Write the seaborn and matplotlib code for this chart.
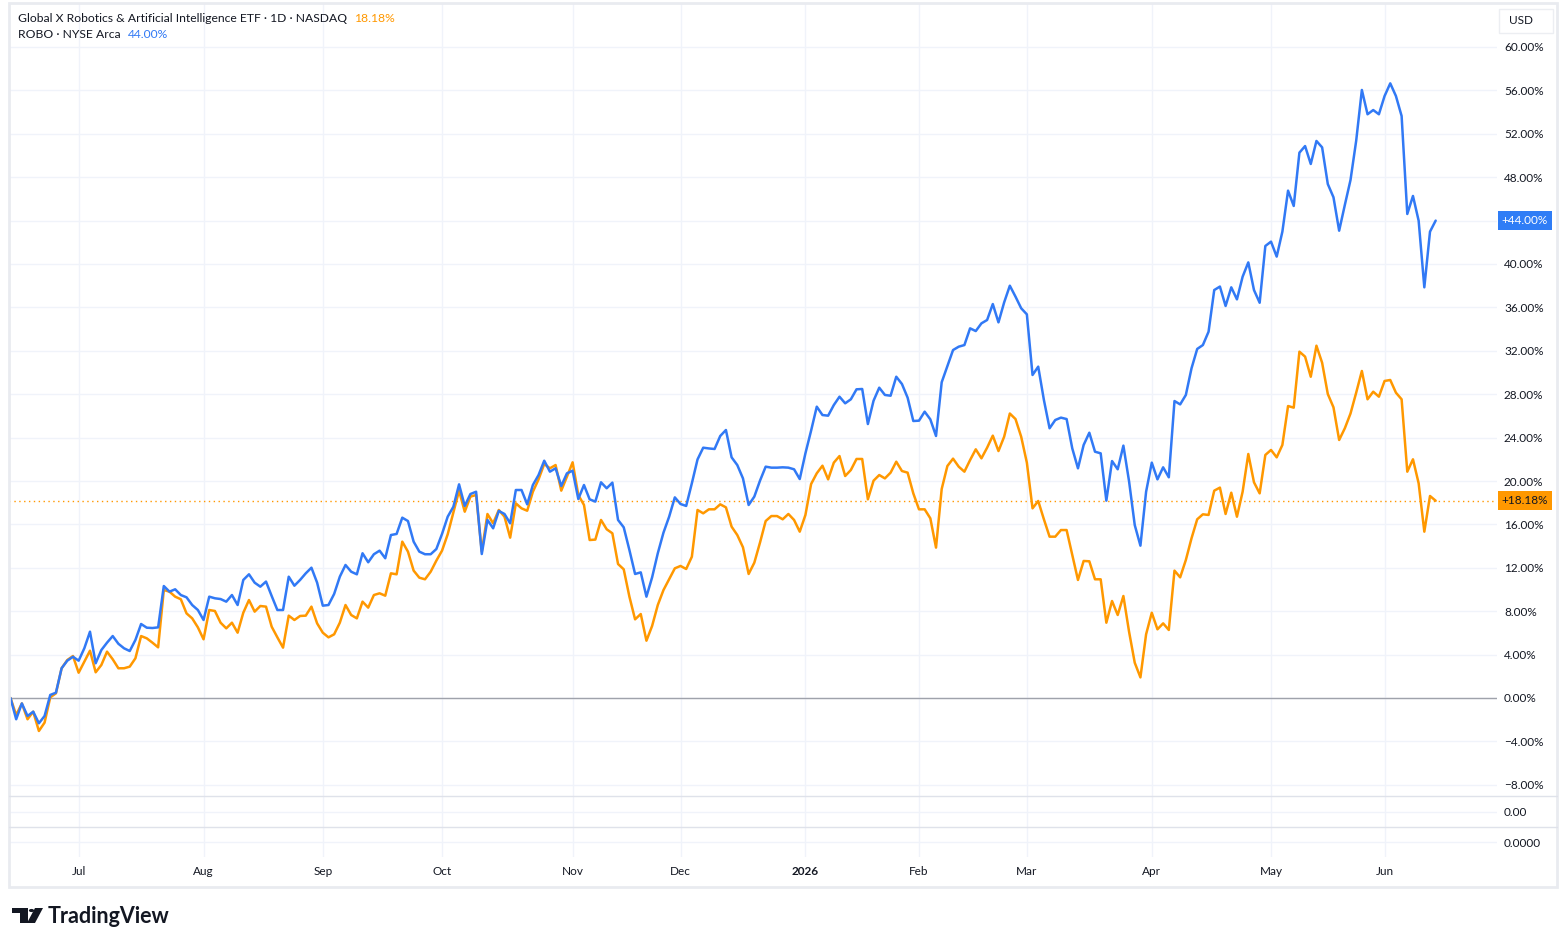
import pandas as pd
import numpy as np
import matplotlib
matplotlib.use("Agg")
import matplotlib.pyplot as plt
import matplotlib.transforms as mtransforms
from matplotlib.patches import Rectangle, Polygon, Circle
import seaborn as sns

# percent change since start (one value per trading day)
robo_pct = [
    0.0, -1.96, -0.5, -1.66, -1.26, -2.33, -1.66, 0.28, 0.49, 2.74,
    3.44, 3.8, 3.44, 4.58, 6.11, 3.2, 4.42, 5.1, 5.71, 5.0,
    4.58, 4.33, 5.35, 6.82, 6.48, 6.45, 6.51, 10.32, 9.8, 10.02,
    9.49, 9.28, 8.57, 8.11, 7.19, 9.34, 9.19, 9.12, 8.88, 9.49,
    8.57, 10.88, 11.4, 10.63, 10.26, 10.73, 9.4, 8.11, 8.11, 11.18,
    10.35, 10.88, 11.49, 12.01, 10.63, 8.51, 8.57, 9.59, 11.18, 12.26,
    11.64, 11.4, 13.34, 12.51, 13.25, 13.58, 12.88, 15.02, 15.12, 16.62,
    16.31, 14.41, 13.49, 13.25, 13.25, 13.73, 15.12, 16.71, 17.63, 19.69,
    17.7, 18.8, 19.01, 13.27, 16.41, 15.64, 17.24, 16.96, 16.1, 19.17,
    19.17, 17.85, 19.63, 20.55, 21.87, 20.86, 21.17, 19.54, 20.71, 20.95,
    18.34, 19.63, 18.31, 18.1, 19.88, 19.33, 19.85, 16.41, 15.73, 13.64,
    11.43, 11.58, 9.34, 11.12, 13.34, 15.24, 16.71, 18.49, 17.88, 17.7,
    19.79, 21.99, 23.07, 23.0, 22.95, 24.15, 24.7, 22.18, 21.47, 20.24,
    17.79, 18.56, 20.03, 21.32, 21.23, 21.23, 21.26, 21.23, 21.08, 20.18,
    22.55, 24.64, 26.85, 26.08, 26.02, 27.0, 27.77, 27.16, 27.53, 28.45,
    28.48, 25.25, 27.4, 28.6, 27.93, 27.86, 29.61, 28.94, 27.68, 25.53,
    25.56, 26.39, 25.68, 24.15, 29.1, 30.6, 32.07, 32.38, 32.53, 34.07,
    33.82, 34.53, 34.84, 36.31, 34.62, 36.46, 38.0, 36.99, 35.92, 35.36,
    29.77, 30.54, 27.47, 24.86, 25.62, 25.84, 25.71, 23.0, 21.17, 23.32,
    24.45, 22.7, 22.55, 18.19, 21.84, 21.08, 23.26, 19.97, 15.94, 14.04,
    19.01, 21.69, 20.15, 21.26, 20.34, 27.37, 27.06, 27.93, 30.39, 32.17,
    32.53, 33.76, 37.6, 37.92, 36.13, 37.85, 36.74, 38.83, 40.15, 37.6,
    36.43, 41.66, 42.06, 40.68, 42.98, 46.76, 45.35, 50.26, 50.87, 49.22,
    51.34, 50.75, 47.37, 46.15, 43.07, 45.44, 47.74, 51.36, 56.04, 53.8,
    54.19, 53.8, 55.48, 56.65, 55.48, 53.64, 44.61, 46.27, 43.99, 37.85,
    42.98, 44.0,
]
etf_pct = [
    0.0, -1.57, -0.5, -1.96, -1.26, -3.04, -2.27, 0.06, 0.43, 2.74,
    3.5, 3.87, 2.33, 3.35, 4.36, 2.37, 3.04, 4.27, 3.57, 2.74,
    2.74, 2.89, 3.66, 5.71, 5.5, 5.1, 4.67, 9.95, 9.8, 9.34,
    9.1, 7.8, 7.34, 6.51, 5.41, 8.11, 8.02, 6.94, 6.42, 6.94,
    6.02, 7.86, 9.03, 7.96, 8.48, 8.42, 6.57, 5.59, 4.64, 7.59,
    7.19, 7.56, 7.59, 8.42, 6.88, 6.02, 5.59, 5.87, 6.94, 8.57,
    7.65, 7.34, 8.88, 8.33, 9.49, 9.65, 9.43, 11.49, 11.4, 14.41,
    13.49, 11.74, 11.09, 10.94, 11.64, 12.66, 13.58, 15.09, 17.08, 19.11,
    17.17, 18.56, 18.71, 13.49, 16.96, 16.1, 17.33, 16.71, 14.78, 17.94,
    17.48, 17.26, 19.01, 20.15, 21.57, 21.17, 21.47, 19.11, 20.4, 21.72,
    18.71, 17.79, 14.56, 14.6, 16.41, 15.55, 15.18, 12.35, 11.86, 9.34,
    7.25, 7.74, 5.28, 6.64, 8.57, 9.95, 10.94, 11.95, 12.17, 11.89,
    13.02, 17.33, 17.02, 17.39, 17.39, 17.85, 17.57, 15.79, 15.02, 13.89,
    11.43, 12.47, 14.32, 16.31, 16.77, 16.77, 16.47, 16.96, 16.41, 15.33,
    16.87, 19.72, 20.71, 21.41, 20.15, 21.69, 22.3, 20.46, 21.01, 22.03,
    22.03, 18.31, 20.03, 20.55, 20.24, 20.77, 21.78, 20.92, 20.77, 18.86,
    17.39, 17.39, 16.56, 13.86, 19.26, 21.38, 22.06, 21.32, 20.86, 21.93,
    22.92, 22.09, 23.07, 24.18, 22.76, 24.08, 26.22, 25.71, 24.08, 21.69,
    17.48, 18.16, 16.47, 14.87, 14.87, 15.48, 15.48, 13.18, 10.88, 12.63,
    12.6, 10.94, 10.94, 6.94, 8.94, 7.65, 9.4, 6.11, 3.25, 1.9,
    5.87, 7.86, 6.33, 6.88, 6.27, 11.74, 11.12, 12.72, 14.72, 16.47,
    16.93, 16.87, 19.11, 19.39, 16.96, 18.92, 16.71, 19.01, 22.49, 19.88,
    18.86, 22.4, 22.86, 22.18, 23.32, 26.91, 26.76, 31.92, 31.46, 29.61,
    32.47, 30.9, 28.02, 26.79, 23.78, 24.86, 26.22, 28.14, 30.14, 27.53,
    28.23, 27.77, 29.22, 29.31, 28.14, 27.53, 20.86, 22.0, 19.79, 15.33,
    18.62, 18.18,
]
price_ticks = [-8, -4, 0, 4, 8, 12, 16, 20, 24, 28, 32, 36, 40, 44, 48, 52, 56, 60]
holidays = ['2025-06-19', '2025-07-04', '2025-09-01', '2025-11-27', '2025-12-25',
            '2026-01-01', '2026-01-19', '2026-02-16', '2026-04-03', '2026-05-25']
etf_name = "Global X Robotics & Artificial Intelligence ETF \u00b7 1D \u00b7 NASDAQ"
robo_name = "ROBO \u00b7 NYSE Arca"

ORANGE = '#ff9800'
BLUE = '#3179f5'
GRID = '#f0f3fa'
TXT = '#131722'

dates = pd.bdate_range('2025-06-12', periods=len(robo_pct), freq='C', holidays=holidays)
df = pd.DataFrame({
    'i': list(range(len(etf_pct))) * 2,
    'pct': etf_pct + robo_pct,
    'series': ['etf'] * len(etf_pct) + ['robo'] * len(robo_pct),
})

sns.set_style("white")
plt.rcParams['font.family'] = ['Lato', 'DejaVu Sans']

W, H = 1567, 946
fig = plt.figure(figsize=(W / 100, H / 100), dpi=100)


def box(x0, y0, x1, y1):
    return [x0 / W, 1 - y1 / H, (x1 - x0) / W, (y1 - y0) / H]


# pixel geometry of the main pane
px_per_bar = 5.678
x_first = 10.5
y_zero, px_per_pct = 698, 10.85
xlim = ((9 - x_first) / px_per_bar, (1497 - x_first) / px_per_bar)

ax = fig.add_axes(box(9, 4, 1497, 796))
sns.lineplot(data=df, x='i', y='pct', hue='series', hue_order=['etf', 'robo'],
             palette={'etf': ORANGE, 'robo': BLUE}, linewidth=1.8,
             legend=False, ax=ax, zorder=3)
ax.set_xlim(*xlim)
ax.set_ylim((y_zero - 796) / px_per_pct, (y_zero - 4) / px_per_pct)
ax.set_xlabel('')
ax.set_ylabel('')
for s in ax.spines.values():
    s.set_visible(False)

# month ticks at the first trading day of each month
month_pos, month_lab = [], []
for k in range(1, len(dates)):
    if dates[k].month != dates[k - 1].month:
        month_pos.append(k)
        month_lab.append('2026' if dates[k].month == 1 else dates[k].strftime('%b'))

ax.set_xticks(month_pos)
ax.set_xticklabels([])
ax.tick_params(axis='x', length=0)
ax.yaxis.tick_right()
ax.set_yticks(price_ticks)
# the 44% label sits under the last-value tag, as on the reference
ax.set_yticklabels(['' if v == 44 else f"{v:.2f}%".replace('-', '\u2212') for v in price_ticks])
ax.tick_params(axis='y', length=0, pad=5, labelsize=8.5, labelcolor=TXT)
ax.grid(True, color=GRID, linewidth=1)
ax.axhline(0, color='#9fa2ab', linewidth=1, zorder=2)
ax.axhline(etf_pct[-1], color=ORANGE, linewidth=1, linestyle=(0, (1, 2.5)), zorder=2)

# last value tags on the price scale
tr = mtransforms.blended_transform_factory(fig.transFigure, ax.transData)
ax.text(1525 / W, robo_pct[-1], f"+{robo_pct[-1]:.2f}%", transform=tr, ha='center', va='center',
        fontsize=8.5, color='white', clip_on=False, zorder=5,
        bbox=dict(boxstyle='square,pad=0.35', fc='#2f7df6', ec='none'))
ax.text(1525 / W, etf_pct[-1], f"+{etf_pct[-1]:.2f}%", transform=tr, ha='center', va='center',
        fontsize=8.5, color=TXT, clip_on=False, zorder=5,
        bbox=dict(boxstyle='square,pad=0.35', fc=ORANGE, ec='none'))

# two empty sub panes under the main pane
for (y0, y1, lab) in [(796, 827, '0.00'), (827, 857, '0.0000')]:
    sub = fig.add_axes(box(9, y0, 1497, y1))
    sub.set_xlim(*xlim)
    sub.set_ylim(-1, 1)
    sub.set_xticks(month_pos)
    sub.set_xticklabels([])
    sub.set_yticks([0])
    sub.yaxis.tick_right()
    sub.set_yticklabels([lab])
    sub.tick_params(length=0, pad=5, labelsize=8.5, labelcolor=TXT)
    sub.grid(True, color=GRID, linewidth=1)
    sub.set_facecolor('none')
    for s in sub.spines.values():
        s.set_visible(False)

# time axis labels
ttr = mtransforms.blended_transform_factory(ax.transData, fig.transFigure)
for p, lab in zip(month_pos, month_lab):
    ax.text(p, 1 - 871 / H, lab, transform=ttr, ha='center', va='center', fontsize=8.5,
            color=TXT, clip_on=False, fontweight='bold' if lab == '2026' else 'normal')

# frame and pane separators
fig.add_artist(Rectangle((9 / W, 1 - 887 / H), 1548 / W, 884 / H, transform=fig.transFigure,
                         fill=False, ec='#e9ebf0', lw=2))
for yy in (796, 827):
    fig.add_artist(plt.Line2D([9 / W, 1557 / W], [1 - yy / H] * 2, transform=fig.transFigure,
                              color='#dfe2ea', lw=1))

# USD button
fig.add_artist(Rectangle((1499 / W, 1 - 33 / H), 54 / W, 24 / H, transform=fig.transFigure,
                         fill=True, fc='white', ec='#eceef2', lw=1))
fig.text(1509 / W, 1 - 21 / H, 'USD', fontsize=8.5, color=TXT, va='center', ha='left')

# legend lines
renderer = fig.canvas.get_renderer()
for (yy, name, val, col) in [(18, etf_name, etf_pct[-1], ORANGE), (35, robo_name, robo_pct[-1], BLUE)]:
    t = fig.text(18 / W, 1 - yy / H, name, fontsize=8.7, color=TXT, va='center', ha='left')
    bb = t.get_window_extent(renderer)
    fig.text((bb.x1 + 7) / W, 1 - yy / H, f"{val:.2f}%", fontsize=8.7, color=col, va='center', ha='left')

# TradingView logo
def pts(xy):
    return [(x / W, 1 - y / H) for x, y in xy]

fig.add_artist(Polygon(pts([(12, 908), (28, 908), (28, 923), (20, 923), (20, 913), (12, 913)]),
                       closed=True, transform=fig.transFigure, fc=TXT, ec='none'))
fig.add_artist(Circle((31.5 / W, 1 - 910.5 / H), 2.6 / W, transform=fig.transFigure, fc=TXT, ec='none'))
fig.add_artist(Polygon(pts([(35, 908), (43, 908), (35, 923), (27, 923)]),
                       closed=True, transform=fig.transFigure, fc=TXT, ec='none'))
fig.text(48 / W, 1 - 916 / H, 'TradingView', fontsize=15.5, fontweight='bold', color=TXT, va='center', ha='left')

fig.savefig('out.png', dpi=100, facecolor='white')
